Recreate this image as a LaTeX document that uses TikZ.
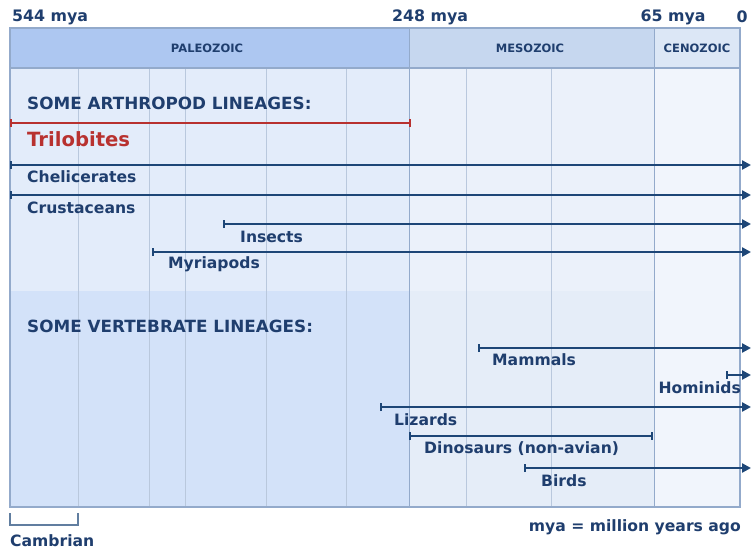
\documentclass[tikz,border=0pt]{standalone}
\usepackage{fontspec}
\setmainfont{DejaVu Sans}
\usetikzlibrary{arrows.meta}
\definecolor{navy}{HTML}{1F3E6E}
\definecolor{linec}{HTML}{1D4677}
\definecolor{redc}{HTML}{B8312F}
\definecolor{paleoH}{HTML}{ADC7F1}
\definecolor{mesoH}{HTML}{C6D7EF}
\definecolor{cenoH}{HTML}{DCE7F6}
\definecolor{paleoU}{HTML}{E3ECFA}
\definecolor{paleoL}{HTML}{D3E2F9}
\definecolor{mesoU}{HTML}{EBF1FA}
\definecolor{mesoL}{HTML}{E5EDF8}
\definecolor{cenoB}{HTML}{F1F5FC}
\definecolor{gridc}{HTML}{B9C8DD}
\definecolor{framec}{HTML}{93AACB}
\tikzset{
  lbl/.style={font=\bfseries\fontsize{15.6}{18}\selectfont, text=navy, inner sep=0pt},
  heading/.style={font=\bfseries\fontsize{16.8}{19}\selectfont, text=navy, inner sep=0pt, anchor=west},
  era/.style={font=\bfseries\fontsize{11.5}{13}\selectfont, text=navy, inner sep=0pt},
  toplbl/.style={font=\bfseries\fontsize{15.8}{18}\selectfont, text=navy, inner sep=0pt},
  lineage/.style={draw=linec, line width=2.6pt, {Bar[width=8pt,line width=1.6pt]}-{Triangle[length=9pt,width=9pt]}},
  extinct/.style={draw=linec, line width=2.6pt, {Bar[width=8pt,line width=1.6pt]}-{Bar[width=8pt,line width=1.6pt]}},
  gridline/.style={draw=gridc, line width=1pt},
}
\begin{document}
\begin{tikzpicture}[x=1pt,y=-1pt]
\useasboundingbox (0,0) rectangle (751,552);
\fill[white] (0,0) rectangle (751,552);
% backgrounds
\fill[paleoU] (10,68) rectangle (409,291);
\fill[paleoL] (10,291) rectangle (409,507);
\fill[mesoU] (409,68) rectangle (654,291);
\fill[mesoL] (409,291) rectangle (654,507);
\fill[cenoB] (654,68) rectangle (740,507);
% header
\fill[paleoH] (10,28) rectangle (409,68);
\fill[mesoH] (409,28) rectangle (654,68);
\fill[cenoH] (654,28) rectangle (740,68);
% grid lines
\foreach \gx in {78,149,185,266,346,466,551}
  \draw[gridline] (\gx,68) -- (\gx,507);
\draw[draw=framec, line width=1pt] (409,28) -- (409,507);
\draw[draw=framec, line width=1pt] (654,28) -- (654,507);
\draw[draw=framec, line width=1.2pt] (10,68) -- (740,68);
\draw[draw=framec, line width=1.2pt] (10,28) rectangle (740,507);
% era labels
\node[era] (paleo) at (207,48) {PALEOZOIC};
\node[era] (meso) at (530,48) {MESOZOIC};
\node[era] (ceno) at (697,48) {CENOZOIC};
% top labels
\node[toplbl, anchor=west] (t544) at (12,17) {544 mya};
\node[toplbl] (t248) at (430,17) {248 mya};
\node[toplbl] (t65) at (673,17) {65 mya};
\node[toplbl] (t0) at (742,17) {0};
% headings
\node[heading] (arth) at (27,103) {SOME ARTHROPOD LINEAGES:};
\node[heading] (vert) at (27,326) {SOME VERTEBRATE LINEAGES:};
% coordinates
\coordinate (triS) at (10,123); \coordinate (triE) at (411,123);
\coordinate (cheS) at (10,165); \coordinate (cheE) at (751,165);
\coordinate (cruS) at (10,195); \coordinate (cruE) at (751,195);
\coordinate (insS) at (223,224); \coordinate (insE) at (751,224);
\coordinate (myrS) at (152,252); \coordinate (myrE) at (751,252);
\coordinate (mamS) at (478,348); \coordinate (mamE) at (751,348);
\coordinate (homS) at (726,375); \coordinate (homE) at (751,375);
\coordinate (lizS) at (380,407); \coordinate (lizE) at (751,407);
\coordinate (dinS) at (409,436); \coordinate (dinE) at (653,436);
\coordinate (birS) at (524,468); \coordinate (birE) at (751,468);
% lineages
\draw[extinct, draw=redc] (triS) -- (triE);
\draw[lineage] (cheS) -- (cheE);
\draw[lineage] (cruS) -- (cruE);
\draw[lineage] (insS) -- (insE);
\draw[lineage] (myrS) -- (myrE);
\draw[lineage] (mamS) -- (mamE);
\draw[lineage] (homS) -- (homE);
\draw[lineage] (lizS) -- (lizE);
\draw[extinct] (dinS) -- (dinE);
\draw[lineage] (birS) -- (birE);
% labels
\node[lbl, anchor=west, text=redc, font=\bfseries\fontsize{19.6}{22}\selectfont] (tri) at (27,139) {Trilobites};
\node[lbl, anchor=west] (che) at (27,177) {Chelicerates};
\node[lbl, anchor=west] (cru) at (27,208) {Crustaceans};
\node[lbl, anchor=west] (ins) at (240,237) {Insects};
\node[lbl, anchor=west] (myr) at (168,264) {Myriapods};
\node[lbl, anchor=west] (mam) at (492,360) {Mammals};
\node[lbl, anchor=east] (hom) at (741,388) {Hominids};
\node[lbl, anchor=west] (liz) at (394,420) {Lizards};
\node[lbl, anchor=west] (din) at (424,449) {Dinosaurs (non-avian)};
\node[lbl, anchor=west] (bir) at (541,481) {Birds};
% footer
\coordinate (camA) at (10,513); \coordinate (camB) at (78,513);
\draw[draw=linec!70, line width=1.2pt] (camA) -- (10,525) -- (78,525) -- (camB);
\node[lbl, anchor=west] (cam) at (10,541) {Cambrian};
\node[lbl, anchor=east] (mya) at (741,527) {mya = million years ago};
\end{tikzpicture}
\end{document}
